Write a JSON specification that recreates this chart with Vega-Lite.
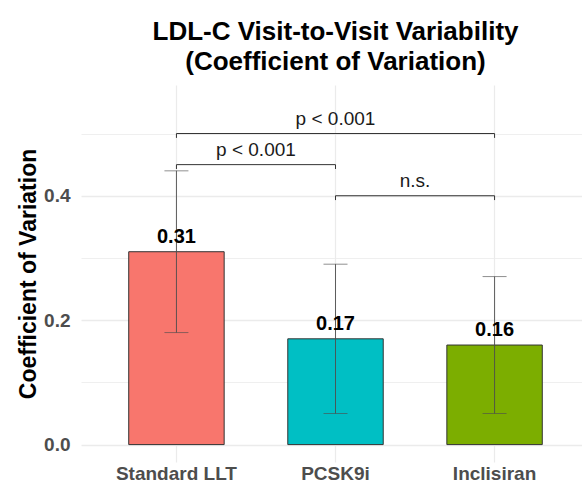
{
  "$schema": "https://vega.github.io/schema/vega-lite/v6.json",
  "autosize": {"type": "none"},
  "padding": {"left": 81, "top": 85, "right": 0, "bottom": 27},
  "width": 509,
  "height": 377,
  "background": "white",
  "config": {
    "view": {"stroke": null},
    "font": "Liberation Sans"
  },
  "title": {
    "text": ["LDL-C Visit-to-Visit Variability", "(Coefficient of Variation)"],
    "fontSize": 26,
    "fontWeight": "bold",
    "color": "black",
    "anchor": "middle",
    "lineHeight": 30,
    "offset": 10
  },
  "datasets": {
    "main": [
      {"group": "Standard LLT", "cv": 0.31, "lo": 0.18, "hi": 0.44, "label": "0.31"},
      {"group": "PCSK9i", "cv": 0.17, "lo": 0.05, "hi": 0.29, "label": "0.17"},
      {"group": "Inclisiran", "cv": 0.16, "lo": 0.05, "hi": 0.27, "label": "0.16"}
    ],
    "brackets": [
      {"g1": "Standard LLT", "g2": "Inclisiran", "y": 0.5, "ytip": 0.493, "label": "p < 0.001", "span": 2},
      {"g1": "Standard LLT", "g2": "PCSK9i", "y": 0.45, "ytip": 0.443, "label": "p < 0.001", "span": 1},
      {"g1": "PCSK9i", "g2": "Inclisiran", "y": 0.4, "ytip": 0.393, "label": "n.s.", "span": 1}
    ]
  },
  "layer": [
    {
      "data": {"name": "main"},
      "mark": {"type": "bar", "stroke": "#333333", "strokeWidth": 1},
      "encoding": {
        "x": {
          "field": "group", "type": "nominal",
          "scale": {"domain": ["Standard LLT", "PCSK9i", "Inclisiran"], "paddingInner": 0.4, "paddingOuter": 0.3},
          "axis": {
            "title": null, "domain": false, "ticks": false, "labelAngle": 0,
            "labelFontSize": 19, "labelFontWeight": "bold", "labelColor": "#4D4D4D",
            "labelPadding": 2, "grid": true, "gridColor": "#EBEBEB", "gridWidth": 1.2,
            "bandPosition": 0.5
          }
        },
        "y": {
          "field": "cv", "type": "quantitative",
          "scale": {"domain": [-0.028, 0.578], "nice": false, "zero": false},
          "axis": {
            "title": "Coefficient of Variation",
            "titleFontSize": 23, "titleFontWeight": "bold", "titleColor": "black",
            "titlePadding": 3,
            "values": [0, 0.1, 0.2, 0.3, 0.4, 0.5],
            "labelExpr": "round(datum.value*10) % 2 == 0 ? format(datum.value, '.1f') : ''",
            "labelFontSize": 19, "labelFontWeight": "bold", "labelColor": "#4D4D4D",
            "labelPadding": 11,
            "domain": false, "ticks": false, "grid": true, "gridColor": "#EBEBEB",
            "gridWidth": {"condition": {"test": "round(datum.value*10) % 2 == 1", "value": 0.8}, "value": 1.3}
          }
        },
        "color": {
          "field": "group", "type": "nominal",
          "scale": {"domain": ["Standard LLT", "PCSK9i", "Inclisiran"], "range": ["#F8766D", "#00BFC4", "#7CAE00"]},
          "legend": null
        }
      }
    },
    {
      "data": {"name": "main"},
      "mark": {"type": "rule", "color": "#4D4D4D", "strokeWidth": 0.9},
      "encoding": {
        "x": {"field": "group", "type": "nominal", "bandPosition": 0.5},
        "y": {"field": "lo", "type": "quantitative"},
        "y2": {"field": "hi"}
      }
    },
    {
      "data": {"name": "main"},
      "mark": {"type": "tick", "color": "#4D4D4D", "thickness": 0.9, "size": 24, "orient": "horizontal"},
      "encoding": {
        "x": {"field": "group", "type": "nominal"},
        "y": {"field": "lo", "type": "quantitative"}
      }
    },
    {
      "data": {"name": "main"},
      "mark": {"type": "tick", "color": "#4D4D4D", "thickness": 0.9, "size": 24, "orient": "horizontal"},
      "encoding": {
        "x": {"field": "group", "type": "nominal"},
        "y": {"field": "hi", "type": "quantitative"}
      }
    },
    {
      "data": {"name": "main"},
      "mark": {"type": "text", "fontSize": 20, "fontWeight": "bold", "color": "black", "baseline": "alphabetic", "dy": -9},
      "encoding": {
        "x": {"field": "group", "type": "nominal", "bandPosition": 0.5},
        "y": {"field": "cv", "type": "quantitative"},
        "text": {"field": "label"}
      }
    },
    {
      "data": {"name": "brackets"},
      "mark": {"type": "rule", "color": "#333333", "strokeWidth": 1},
      "encoding": {
        "x": {"field": "g1", "type": "nominal", "bandPosition": 0.5},
        "x2": {"field": "g2", "bandPosition": 0.5},
        "y": {"field": "y", "type": "quantitative"}
      }
    },
    {
      "data": {"name": "brackets"},
      "transform": [{"fold": ["g1", "g2"], "as": ["end", "grp"]}],
      "mark": {"type": "rule", "color": "#333333", "strokeWidth": 1},
      "encoding": {
        "x": {"field": "grp", "type": "nominal", "bandPosition": 0.5},
        "y": {"field": "y", "type": "quantitative"},
        "y2": {"field": "ytip"}
      }
    },
    {
      "data": {"name": "brackets"},
      "transform": [{"filter": "datum.span == 2"}],
      "mark": {"type": "text", "fontSize": 19, "color": "#1A1A1A", "baseline": "alphabetic", "dy": -9},
      "encoding": {
        "x": {"field": "g1", "type": "nominal", "bandPosition": 2.1667},
        "y": {"field": "y", "type": "quantitative"},
        "text": {"field": "label"}
      }
    },
    {
      "data": {"name": "brackets"},
      "transform": [{"filter": "datum.span == 1"}],
      "mark": {"type": "text", "fontSize": 19, "color": "#1A1A1A", "baseline": "alphabetic", "dy": -9},
      "encoding": {
        "x": {"field": "g1", "type": "nominal", "bandPosition": 1.3333},
        "y": {"field": "y", "type": "quantitative"},
        "text": {"field": "label"}
      }
    }
  ]
}
